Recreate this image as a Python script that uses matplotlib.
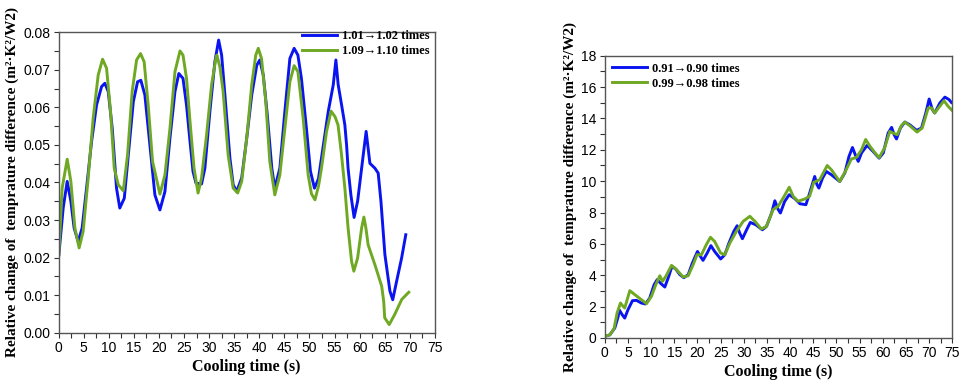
import matplotlib
matplotlib.use('Agg')
import matplotlib.pyplot as plt
from matplotlib.ticker import MultipleLocator

# left panel: 1.01->1.02 times (blue) and 1.09->1.10 times (green)
t_a1 = [0.06, 0.92, 1.72, 2.45, 3.1, 3.9, 4.7, 5.58, 6.58, 7.57, 8.57, 9.23, 9.9, 10.7, 11.55,
        12.2, 13.1, 13.9, 14.9, 15.75, 16.4, 17.2, 18.2, 19.2, 20.2, 21.2, 22.2, 23.2, 23.97,
        24.8, 25.5, 26.2, 26.8, 27.4, 28.5, 29.16, 30.16, 31.15, 31.9, 32.5, 33.15, 34.15, 34.8,
        35.5, 36.5, 37.5, 38.5, 39.5, 40.1, 40.8, 41.6, 42.5, 43.1, 44.1, 45.1, 46.1, 46.95,
        47.7, 48.4, 49.4, 50.2, 51.0, 51.8, 52.4, 53.75, 54.75, 55.27, 55.73, 56.4, 57.06,
        57.4, 57.7, 58.26, 58.9, 59.6, 60.4, 61.3, 62.05, 63.05, 63.7, 64.25, 65.04, 66.04,
        66.6, 67.37, 68.37, 69.2]
y_a1 = [0.0208, 0.0332, 0.0403, 0.035, 0.0279, 0.0243, 0.0279, 0.0385, 0.0509, 0.0606, 0.0655,
        0.0664, 0.0642, 0.0544, 0.0385, 0.0332, 0.0358, 0.0473, 0.0615, 0.0668, 0.0672, 0.0633,
        0.05, 0.0367, 0.0327, 0.0376, 0.0518, 0.0642, 0.069, 0.0677, 0.0606, 0.0509, 0.0429,
        0.0398, 0.0396, 0.0438, 0.0589, 0.0721, 0.0779, 0.0739, 0.0633, 0.0465, 0.0394, 0.0376,
        0.0412, 0.0518, 0.0633, 0.0712, 0.0726, 0.0686, 0.058, 0.0438, 0.0385, 0.0438, 0.0589,
        0.073, 0.0757, 0.0739, 0.0677, 0.0544, 0.043, 0.0385, 0.041, 0.0465, 0.0589, 0.066,
        0.0726, 0.066, 0.0607, 0.0553, 0.05, 0.0438, 0.0367, 0.0307, 0.035, 0.0438, 0.0536,
        0.0451, 0.0438, 0.0425, 0.035, 0.0208, 0.0111, 0.0088, 0.0137, 0.0199, 0.0261]

t_a2 = [0.06, 0.72, 1.72, 2.45, 3.25, 4.1, 4.9, 5.9, 6.9, 7.9, 8.77, 9.57, 10.36, 11.1, 11.9,
        12.9, 13.75, 14.67, 15.55, 16.34, 17.06, 17.86, 18.73, 20.2, 21.2, 22.2, 23.2, 24.2,
        24.8, 25.5, 26.2, 27.0, 27.8, 28.5, 29.5, 30.5, 31.35, 31.55, 32.15, 32.8, 33.8, 34.8,
        35.7, 36.5, 37.5, 38.5, 39.3, 39.8, 40.45, 41.3, 42.1, 43.1, 44.1, 45.1, 46.1, 46.95,
        47.7, 48.75, 49.75, 50.4, 51.1, 51.8, 52.4, 53.4, 54.3, 55.1, 55.7, 56.4, 57.06, 57.7,
        58.4, 58.85, 59.6, 60.4, 60.85, 61.25, 61.7, 63.05, 64.4, 64.8, 65.0, 65.9, 67.0, 68.4,
        69.8]
y_a2 = [0.0208, 0.0385, 0.0462, 0.0403, 0.0279, 0.0226, 0.027, 0.0412, 0.0571, 0.0686, 0.0728,
        0.0704, 0.0589, 0.0438, 0.0394, 0.0378, 0.0473, 0.0642, 0.0726, 0.0743, 0.0721, 0.0606,
        0.0456, 0.0369, 0.042, 0.0544, 0.0695, 0.075, 0.0739, 0.0677, 0.0562, 0.0438, 0.0372,
        0.0412, 0.0527, 0.066, 0.073, 0.0739, 0.0708, 0.0642, 0.0473, 0.0385, 0.0372, 0.0403,
        0.0518, 0.066, 0.0739, 0.0757, 0.073, 0.0615, 0.0456, 0.0367, 0.042, 0.0544, 0.0668,
        0.0711, 0.0695, 0.0571, 0.042, 0.037, 0.0354, 0.039, 0.0438, 0.0535, 0.059, 0.0575,
        0.0553, 0.0473, 0.0385, 0.0279, 0.019, 0.0164, 0.0199, 0.0279, 0.0308, 0.0279, 0.0234,
        0.0181, 0.0124, 0.0084, 0.004, 0.0022, 0.0049, 0.0089, 0.0108]

# right panel: 0.91->0.90 times (blue) and 0.99->0.98 times (green)
t_b1 = [0, 1.08, 2.16, 2.9, 3.1, 3.74, 4.3, 5.0, 5.97, 6.83, 7.9, 8.78, 9.7, 10.65, 11.3, 12.0,
        12.95, 13.67, 14.5, 15.3, 16.2, 17.05, 18.0, 18.9, 20.0, 20.65, 21.2, 22.1, 22.9, 23.7,
        25.0, 25.9, 26.8, 27.84, 28.56, 29.1, 29.7, 30.6, 31.4, 32.6, 34.0, 34.9, 36.0, 36.7,
        37.4, 37.9, 38.8, 39.8, 41.0, 42.1, 43.4, 44.2, 45.3, 45.8, 46.2, 47.0, 47.8, 48.9,
        50.7, 51.8, 52.7, 53.45, 54.2, 54.7, 55.4, 56.6, 57.9, 59.2, 60.1, 61.15, 61.9, 62.45,
        62.95, 63.8, 64.75, 65.8, 67.3, 68.35, 69.28, 70.0, 70.7, 71.2, 72.3, 73.4, 74.3, 74.8]
y_b1 = [0.1, 0.2, 0.64, 1.38, 1.8, 1.49, 1.27, 1.8, 2.38, 2.4, 2.23, 2.17, 2.55, 3.4, 3.72, 3.5,
        3.25, 3.82, 4.57, 4.4, 4.04, 3.85, 4.04, 4.78, 5.52, 5.2, 4.95, 5.42, 5.89, 5.52, 5.04,
        5.31, 6.06, 6.8, 7.16, 6.7, 6.33, 6.9, 7.37, 7.22, 6.9, 7.12, 7.97, 8.75, 8.2, 7.97, 8.7,
        9.14, 8.89, 8.56, 8.5, 9.23, 10.3, 9.77, 9.56, 10.2, 10.62, 10.41, 9.98, 10.52, 11.58,
        12.15, 11.58, 11.26, 11.8, 12.28, 11.9, 11.47, 11.8, 13.07, 13.43, 12.96, 12.69, 13.39,
        13.77, 13.6, 13.24, 13.39, 14.35, 15.24, 14.56, 14.35, 14.98, 15.36, 15.2, 15.02]

t_b2 = [0, 1.08, 2.0, 2.66, 3.38, 3.96, 4.3, 5.4, 6.5, 7.9, 9.0, 10.07, 11.0, 11.87, 12.45, 13.17,
        14.4, 15.47, 16.9, 18.0, 19.06, 19.9, 20.86, 21.9, 22.8, 23.7, 25.0, 25.9, 27.0, 28.4,
        29.86, 31.3, 32.4, 33.8, 34.9, 36.3, 37.4, 38.5, 39.8, 40.65, 41.7, 43.2, 44.2, 45.1,
        46.4, 48.0, 48.9, 50.7, 52.1, 53.2, 54.3, 55.4, 56.3, 57.2, 58.3, 59.2, 60.4, 61.5,
        62.2, 63.1, 64.0, 64.75, 65.8, 67.4, 68.5, 69.8, 70.5, 71.2, 72.4, 73.2, 74.1, 75.0]
y_b2 = [0.1, 0.2, 0.6, 1.6, 2.23, 2.02, 1.91, 3.02, 2.76, 2.44, 2.19, 2.66, 3.4, 3.97, 3.61, 3.93,
        4.63, 4.36, 3.89, 3.97, 4.67, 5.31, 5.31, 5.95, 6.42, 6.16, 5.42, 5.31, 6.06, 6.8, 7.44,
        7.76, 7.44, 6.95, 7.12, 8.18, 8.4, 8.93, 9.61, 9.04, 8.72, 8.87, 9.04, 9.93, 10.1, 11.0,
        10.73, 9.98, 10.73, 11.41, 11.52, 12.0, 12.66, 12.24, 11.81, 11.5, 12.13, 13.18, 13.07,
        12.96, 13.54, 13.77, 13.54, 13.13, 13.39, 14.67, 14.67, 14.35, 14.82, 15.13, 14.77, 14.5]

blue = '#0a14f0'
green = '#6fa823'
serif = ['Liberation Serif', 'DejaVu Serif']
sans = ['Liberation Sans', 'DejaVu Sans']
ylab = 'Relative change of  temprature difference (m²·K²/W2)'

fig = plt.figure(figsize=(9.6, 3.83), dpi=100)
ax1 = fig.add_axes([0.061, 0.131, 0.392, 0.785])
ax2 = fig.add_axes([0.630, 0.1175, 0.362, 0.737])

ax1.plot(t_a1, y_a1, color=blue, lw=2.1, label='1.01→1.02 times')
ax1.plot(t_a2, y_a2, color=green, lw=2.1, label='1.09→1.10 times')
ax1.set_xlim(0, 75)
ax1.set_ylim(0, 0.08)
ax1.xaxis.set_major_locator(MultipleLocator(5))
ax1.xaxis.set_minor_locator(MultipleLocator(2.5))
ax1.yaxis.set_major_locator(MultipleLocator(0.01))
ax1.yaxis.set_minor_locator(MultipleLocator(0.005))
ax1.yaxis.set_major_formatter(plt.FormatStrFormatter('%.2f'))

ax2.plot(t_b1, y_b1, color=blue, lw=2.1, label='0.91→0.90 times')
ax2.plot(t_b2, y_b2, color=green, lw=2.1, label='0.99→0.98 times')
ax2.set_xlim(0, 75)
ax2.set_ylim(0, 18)
ax2.xaxis.set_major_locator(MultipleLocator(5))
ax2.xaxis.set_minor_locator(MultipleLocator(2.5))
ax2.yaxis.set_major_locator(MultipleLocator(2))
ax2.yaxis.set_minor_locator(MultipleLocator(1))

for ax, loc, anchor in [(ax1, 'upper right', (1.005, 1.03)), (ax2, 'upper left', (0.0, 1.0))]:
    for s in ax.spines.values():
        s.set_color('#555555')
        s.set_linewidth(1.0)
    ax.tick_params(which='both', direction='out', length=3.5, width=0.8, color='#333333',
                   labelsize=10, pad=2.5)
    for lab in ax.get_xticklabels() + ax.get_yticklabels():
        lab.set_family(sans)
    ax.set_xlabel('Cooling time (s)', family=serif, fontweight='bold', fontsize=11.5, labelpad=3)
    ax.set_ylabel(ylab, family=serif, fontweight='bold', fontsize=11, labelpad=3)
    ax.legend(loc=loc, bbox_to_anchor=anchor, frameon=False, handlelength=2.8,
              borderaxespad=0.15, labelspacing=0.25, handletextpad=0.4,
              prop={'family': serif, 'weight': 'bold', 'size': 9})

fig.savefig('out.png', dpi=100)
